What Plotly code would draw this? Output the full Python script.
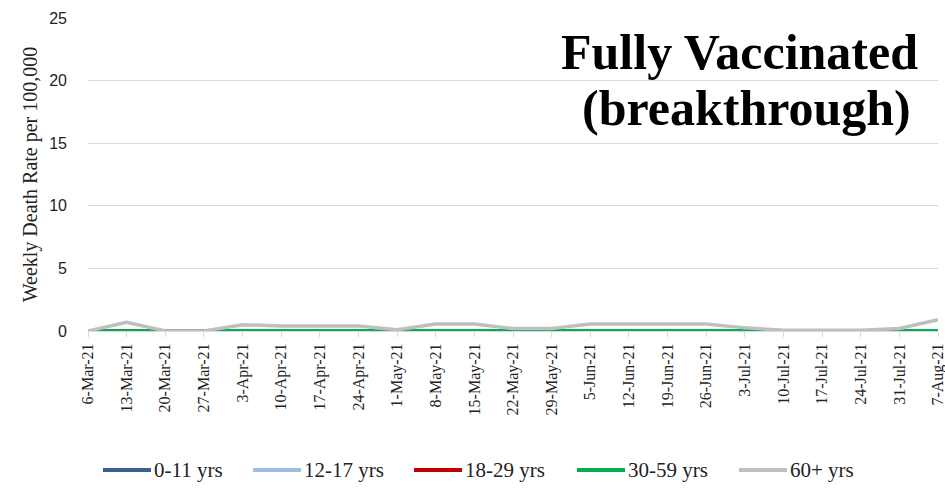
import plotly.graph_objects as go

weeks = ["6-Mar-21", "13-Mar-21", "20-Mar-21", "27-Mar-21", "3-Apr-21", "10-Apr-21",
         "17-Apr-21", "24-Apr-21", "1-May-21", "8-May-21", "15-May-21", "22-May-21",
         "29-May-21", "5-Jun-21", "12-Jun-21", "19-Jun-21", "26-Jun-21", "3-Jul-21",
         "10-Jul-21", "17-Jul-21", "24-Jul-21", "31-Jul-21", "7-Aug-21"]

age_0_11 = [0] * 23
age_12_17 = [0] * 23
age_18_29 = [0, 0, 0, 0, 0, 0, 0, 0.05, 0, 0, 0, 0, 0, 0, 0, 0, 0, 0, 0, 0, 0, 0, 0]
age_30_59 = [0, 0.02, 0, 0, 0.02, 0.02, 0.02, 0.02, 0.02, 0.02, 0.02, 0.02, 0.02, 0.02,
             0.02, 0.02, 0.02, 0.02, 0.02, 0.02, 0.02, 0.02, 0.02]
age_60p = [0, 0.7, 0, 0, 0.5, 0.4, 0.4, 0.4, 0.1, 0.55, 0.55, 0.2, 0.2, 0.55, 0.55, 0.55,
           0.55, 0.25, 0.05, 0.05, 0.05, 0.2, 0.9]

series_names = ["0-11 yrs", "12-17 yrs", "18-29 yrs", "30-59 yrs", "60+ yrs"]
series_values = [age_0_11, age_12_17, age_18_29, age_30_59, age_60p]
series_colors = ["#3b5f8e", "#9dbde3", "#c00000", "#00b050", "#bfbfbf"]

# figure geometry (pixels)
W, H = 945, 489
L, R, T, B = 88, 7, 18, 158
PW, PH = W - L - R, H - T - B

def px_x(px):
    return (px - L) / PW

def px_y(py):
    return (H - B - py) / PH

fig = go.Figure()
for name, vals, color in zip(series_names, series_values, series_colors):
    fig.add_trace(go.Scatter(x=weeks, y=vals, name=name, mode="lines",
                             line=dict(color=color, width=3.5), showlegend=False))

# custom legend (long line keys like the original)
legend_starts = [103, 253, 414, 577, 739]
legend_y = 470
key_len = 48
shapes, annotations = [], []
for name, color, x0 in zip(series_names, series_colors, legend_starts):
    shapes.append(dict(type="line", xref="paper", yref="paper",
                       x0=px_x(x0), x1=px_x(x0 + key_len),
                       y0=px_y(legend_y), y1=px_y(legend_y),
                       line=dict(color=color, width=4)))
    annotations.append(dict(text=name, xref="paper", yref="paper",
                            x=px_x(x0 + key_len + 1), y=px_y(legend_y),
                            xanchor="left", yanchor="middle", showarrow=False,
                            font=dict(family="Liberation Serif", size=21, color="#222")))

title_font = dict(family="Liberation Serif", size=50, color="black")
annotations += [
    dict(text="<b>Fully Vaccinated</b>", xref="paper", yref="paper",
         x=0.979, y=0.892, xanchor="right", yanchor="middle",
         showarrow=False, font=title_font),
    dict(text="<b>(breakthrough)</b>", xref="paper", yref="paper",
         x=0.971, y=0.712, xanchor="right", yanchor="middle",
         showarrow=False, font=title_font),
]

fig.update_layout(
    width=W, height=H,
    margin=dict(l=L, r=R, t=T, b=B, autoexpand=False),
    paper_bgcolor="white", plot_bgcolor="white",
    showlegend=False,
    shapes=shapes,
    annotations=annotations,
)
fig.update_xaxes(type="category", range=[0, 22], showgrid=False, automargin=False,
                 showline=True, linecolor="#d9d9d9", linewidth=1,
                 ticks="outside", tickcolor="#d9d9d9", ticklen=5,
                 tickangle=-90,
                 tickfont=dict(family="Liberation Serif", size=16, color="#222"))
fig.update_yaxes(range=[0, 25], dtick=5, showgrid=True, gridcolor="#d9d9d9",
                 zeroline=False, showline=False, automargin=False,
                 ticklabelstandoff=20,
                 tickfont=dict(family="Liberation Sans", size=16, color="#222"),
                 title=dict(text="Weekly Death Rate per 100,000",
                            font=dict(family="Liberation Serif", size=20, color="#222"),
                            standoff=6))

fig.write_html("out.html", config={"displayModeBar": False},
               post_script="document.body.style.margin='0';")
